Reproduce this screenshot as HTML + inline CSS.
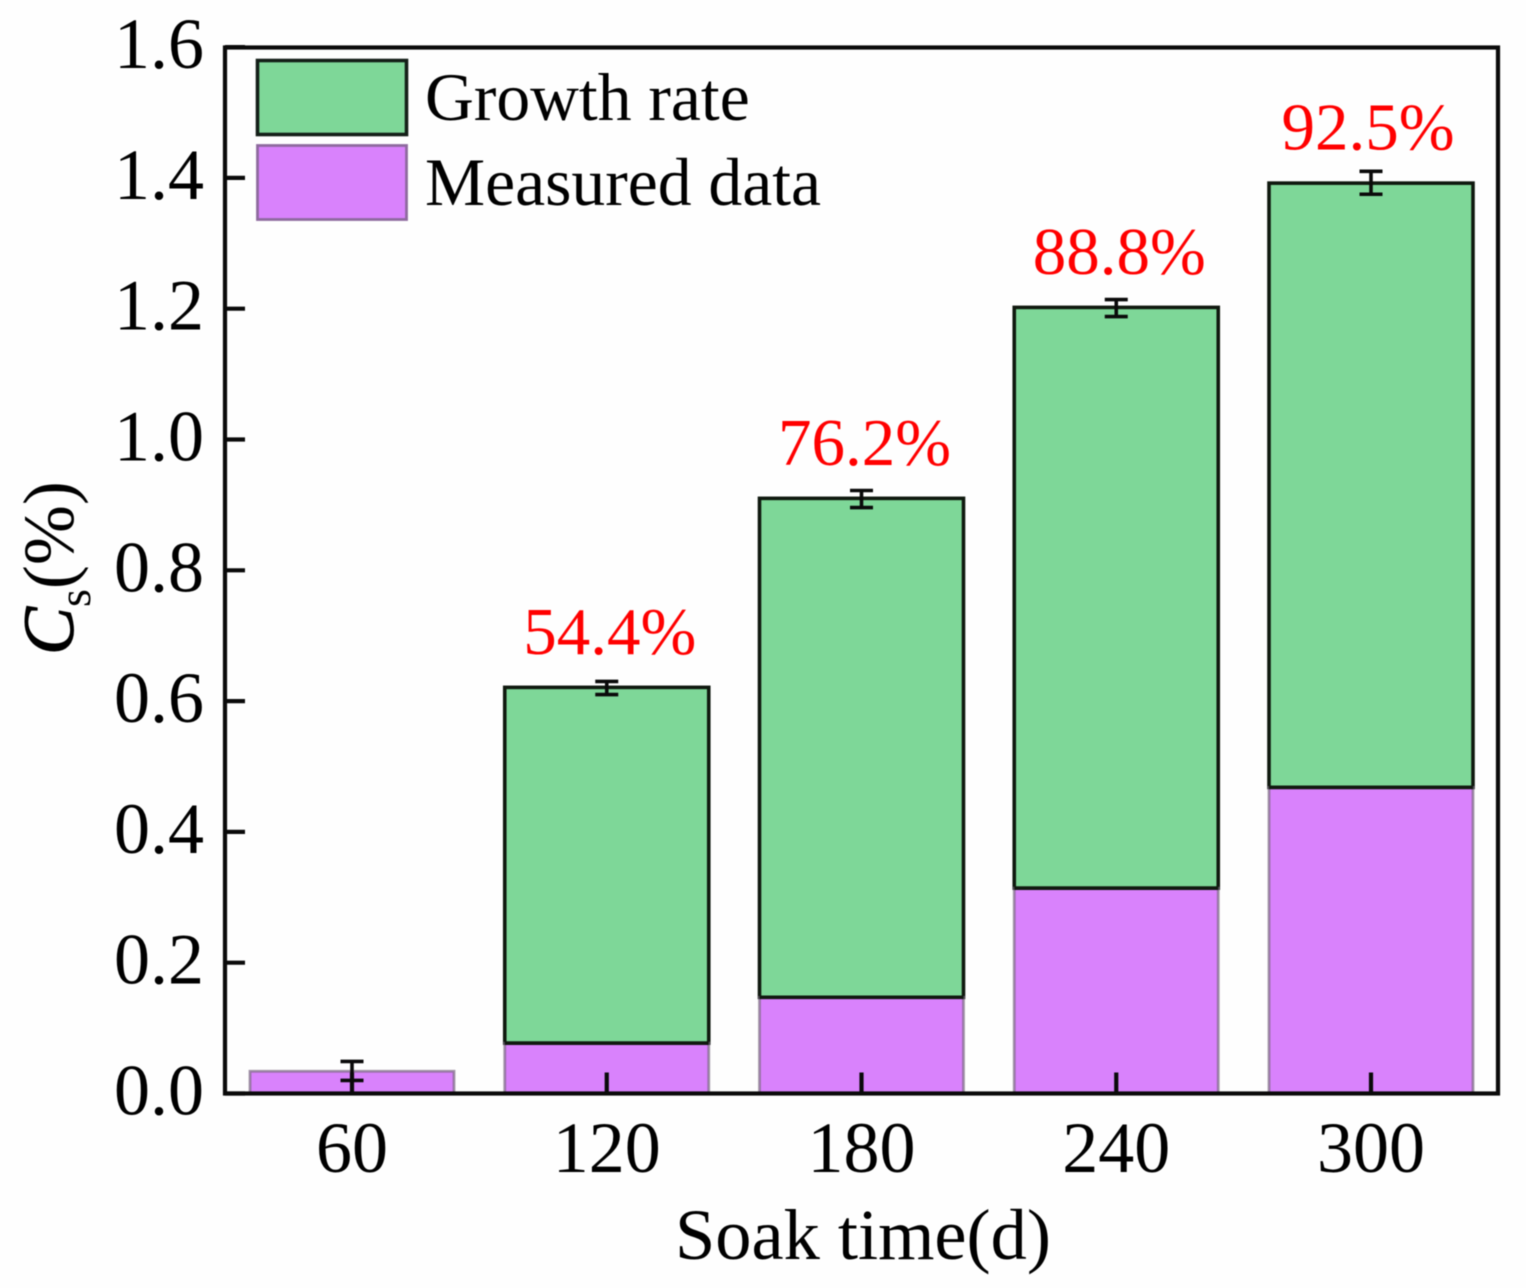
<!DOCTYPE html>
<html lang="en">
<head>
<meta charset="utf-8">
<title>Cs versus soak time</title>
<style>
html,body{margin:0;padding:0;background:#fefefe}
svg{display:block;filter:blur(0.45px)}
text{font-family:"Liberation Serif","Times New Roman",serif;fill:#000}
</style>
</head>
<body>
<svg id="chart" xmlns="http://www.w3.org/2000/svg" width="1526" height="1288" viewBox="0 0 1526 1288">
  <rect x="0" y="0" width="1526" height="1288" fill="#fefefe"/>
  <g id="bars"></g>
  <g id="errors"></g>
  <rect x="225" y="47.5" width="1273" height="1046" fill="none" stroke="#0a0a0a" stroke-width="4.2"/>
  <g id="ticks"></g>
  <g id="tick-labels"></g>
  <g id="rates"></g>
  <g>
    <rect x="257.5" y="60.5" width="149" height="74" fill="#7ed798" stroke="#141f18" stroke-width="3.6"/>
    <text x="425" y="120" font-size="67.6">Growth rate</text>
    <rect x="257.5" y="145.5" width="149" height="74" fill="#d982fc" stroke="#8e6a9e" stroke-width="2.8"/>
    <text x="425" y="205" font-size="67.6">Measured data</text>
  </g>
  <text x="863" y="1259" font-size="72.4" text-anchor="middle">Soak time(d)</text>
  <text transform="translate(73,655) rotate(-90)" font-size="72"><tspan font-style="italic" stroke="#000" stroke-width="1">C</tspan><tspan font-size="46" dy="17">s</tspan><tspan dy="-17">(%)</tspan></text>
</svg>
<script>
var categories = ['60', '120', '180', '240', '300'];
var measuredValues = [0.034, 0.077, 0.147, 0.314, 0.468];
var totalValues = [0.034, 0.621, 0.91, 1.202, 1.392];
var errorHighs = [0.049, 0.63, 0.922, 1.214, 1.41];
var errorLows = [0.02, 0.61, 0.896, 1.188, 1.375];
var rateLabels = ['', '54.4%', '76.2%', '88.8%', '92.5%'];
var yTicks = [0, 0.2, 0.4, 0.6, 0.8, 1.0, 1.2, 1.4, 1.6];

var NS = 'http://www.w3.org/2000/svg';
function yScale(v) { return 1093.5 - v * 654; }
function xScale(i) { return 352 + i * 254.75; }
function make(parentId, tag, props, text) {
  var el = document.createElementNS(NS, tag);
  for (var k in props) { el.setAttribute(k, props[k]); }
  if (text !== undefined) { el.textContent = text; }
  document.getElementById(parentId).appendChild(el);
  return el;
}

var BAR_WIDTH = 204;
var el;
categories.forEach(function (cat, i) {
  var cx = xScale(i);
  var left = cx - BAR_WIDTH / 2;
  if (totalValues[i] > measuredValues[i]) {
    el = make('bars', 'rect', {
      x: left, y: yScale(totalValues[i]), width: BAR_WIDTH,
      height: yScale(measuredValues[i]) - yScale(totalValues[i]),
      fill: '#7ed798', stroke: '#10190f', 'stroke-width': 3.6
    });
    
    
  }
  el = make('bars', 'rect', {
    x: left, y: yScale(measuredValues[i]), width: BAR_WIDTH,
    height: yScale(0) - yScale(measuredValues[i]),
    fill: '#d982fc', stroke: '#7a6a82', 'stroke-opacity': 0.7, 'stroke-width': 2.8
  });
  
  
  if (totalValues[i] > measuredValues[i]) {
    el = make('bars', 'line', {
      x1: left, x2: left + BAR_WIDTH, y1: yScale(measuredValues[i]), y2: yScale(measuredValues[i]),
      stroke: '#10190f', 'stroke-width': 3.6
    });
    
    
  }

  var cap = 11.5;
  el = make('errors', 'line', { x1: cx, x2: cx, y1: yScale(errorHighs[i]), y2: yScale(errorLows[i]), stroke: '#0a0a0a', 'stroke-width': 3.6 });
  
  
  el = make('errors', 'line', { x1: cx - cap, x2: cx + cap, y1: yScale(errorHighs[i]), y2: yScale(errorHighs[i]), stroke: '#0a0a0a', 'stroke-width': 3.6 });
  
  
  el = make('errors', 'line', { x1: cx - cap, x2: cx + cap, y1: yScale(errorLows[i]), y2: yScale(errorLows[i]), stroke: '#0a0a0a', 'stroke-width': 3.6 });
  
  

  el = make('ticks', 'line', { x1: cx, x2: cx, y1: yScale(0), y2: yScale(0) - 21, stroke: '#0a0a0a', 'stroke-width': 4.2 });
  
  

  el = make('tick-labels', 'text', { x: cx, y: 1172, 'font-size': 72, 'text-anchor': 'middle' }, cat);
  
  

  if (rateLabels[i]) {
    var labelShift = i === categories.length - 1 ? -3 : 3;
    el = make('rates', 'text', { x: cx + labelShift, y: yScale(totalValues[i]) - 33.5, 'font-size': 67, 'text-anchor': 'middle', style: 'fill:#ff0000' }, rateLabels[i]);
    
    
  }
});

yTicks.forEach(function (v) {
  var label = v.toFixed(1);
  el = make('ticks', 'line', { x1: 225, x2: 245, y1: yScale(v), y2: yScale(v), stroke: '#0a0a0a', 'stroke-width': 4.2 });
  
  
  el = make('tick-labels', 'text', { x: 204, y: yScale(v) + 21, 'font-size': 72, 'text-anchor': 'end' }, label);
  
  
});
</script>
</body>
</html>
